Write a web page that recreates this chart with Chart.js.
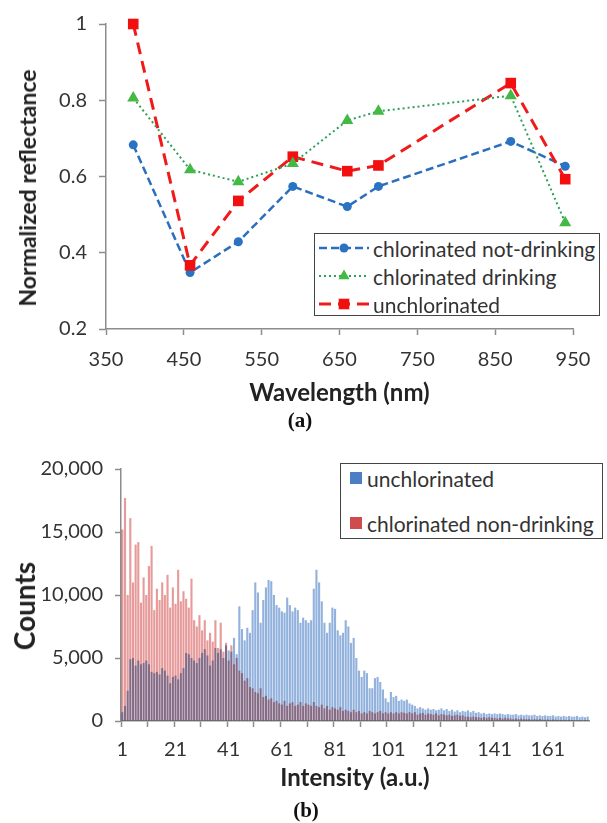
<!DOCTYPE html>
<html>
<head>
<meta charset="utf-8">
<script src="https://cdn.jsdelivr.net/npm/chart.js@4.4.1/dist/chart.umd.min.js"></script>
<style>
    html, body { margin: 0; padding: 0; background: #fff; }
    body { width: 607px; height: 823px; position: relative; overflow: hidden; font-family: 'Lato', sans-serif; color: #333; }
    canvas { position: absolute; left: 0; }
    #reflectance { top: 0; }
    #histogram { top: 440px; }
    .y-title { position: absolute; font-weight: bold; color: #222; white-space: nowrap; transform: translate(-50%, -50%) rotate(-90deg); }
    .panel-label { position: absolute; font-family: 'Liberation Serif', serif; font-weight: bold; font-size: 21px; color: #111; transform: translate(-50%, -50%); }
    .legend { position: absolute; box-sizing: border-box; border: 1.5px solid #444; background: #fff; font-size: 21px; }
    .legend-row { display: flex; align-items: center; height: 28px; white-space: nowrap; }
    .legend-row svg { flex: none; }
    .swatch { width: 12px; height: 12px; margin: 0 5px 0 9px; flex: none; }
</style>
</head>
<body>
<canvas id="reflectance" width="607" height="410"></canvas>
<canvas id="histogram" width="607" height="360"></canvas>

<div class="y-title" style="left: 27px; top: 188px; font-size: 23px;">Normalized reflectance</div>
<div class="y-title" style="left: 24px; top: 606px; font-size: 28px;">Counts</div>
<div class="panel-label" style="left: 300px; top: 420px;">(a)</div>
<div class="panel-label" style="left: 306px; top: 810px;">(b)</div>

<div class="legend" id="legend-a" style="left: 314px; top: 233px; width: 286px; height: 83px;"></div>
<div class="legend" id="legend-b" style="left: 340px; top: 463px; width: 263px; height: 76px;"></div>

<script>
// (a) reflectance spectra
const wavelengths = [385, 458, 520, 590, 660, 700, 870, 940];
const chlorNotDrinking = [0.683, 0.348, 0.429, 0.574, 0.521, 0.574, 0.692, 0.627];
const chlorDrinking = [0.806, 0.618, 0.586, 0.634, 0.747, 0.771, 0.812, 0.479];
const unchlorinated = [1.0, 0.367, 0.536, 0.652, 0.614, 0.629, 0.845, 0.593];
const reflectanceTicks = [0.2, 0.4, 0.6, 0.8, 1];

// (b) intensity histograms, bins 1..176
const intensityBins = Array.from({ length: 176 }, (_, i) => String(i + 1));
const unchlorinatedCounts = [
    700, 1200, 2400, 4900, 5000, 4400, 4800, 4500, 4600, 4800,
    4500, 3900, 3800, 3900, 3700, 4200, 4000, 3600, 3000, 3500,
    3600, 3300, 3800, 4200, 5400, 5300, 5000, 4800, 4600, 5000,
    5400, 5700, 5200, 4400, 4800, 5800, 5400, 5700, 5000, 6000,
    5600, 5500, 6600, 5300, 9100, 7300, 6400, 7400, 7000, 8800,
    11000, 10200, 7800, 9600, 10600, 11200, 11100, 10000, 9200, 9000,
    8700, 8600, 9800, 9200, 8700, 9000, 8800, 7800, 8200, 8000,
    7800, 8000, 10500, 12000, 11000, 9500, 7800, 7000, 7800, 9000,
    8900, 7200, 6800, 7000, 8000, 7500, 6200, 6600, 5000, 4000,
    3500, 4000, 3800, 2600, 2600, 3400, 3500, 3100, 2500, 1800,
    1500, 2300, 1900, 2000, 1600, 1700, 1600, 1700, 1400, 1300,
    1200, 1000, 1100, 1000, 900, 1000, 900, 950, 850, 900,
    1000, 850, 950, 800, 900, 750, 850, 700, 800, 750,
    850, 700, 800, 650, 700, 600, 650, 550, 600, 550,
    600, 550, 600, 550, 500, 550, 500, 500, 550, 450,
    500, 450, 500, 450, 450, 500, 400, 450, 400, 450,
    400, 400, 450, 350, 400, 350, 400, 350, 400, 350,
    350, 400, 300, 350, 300, 350
];
const chlorNonDrinkingCounts = [
    15200, 17700, 10000, 16100, 11000, 14000, 14200, 9400, 11400, 10000,
    12300, 13900, 8800, 10500, 9600, 11000, 10000, 11600, 9000, 10600,
    9300, 12000, 9500, 10300, 9700, 9000, 11300, 8000, 7500, 8400,
    7200, 8000, 6400, 7000, 6300, 8000, 5800, 7800, 5500, 6200,
    4800, 6000, 4500, 5000, 4000, 3800, 3200, 3400, 2700, 2600,
    2300, 2200, 2600, 1900, 2000, 1700, 1800, 1500, 1600, 1400,
    1300, 1600, 1200, 1400, 1500, 1200, 1300, 1500, 1200, 1400,
    1300, 1200, 1500, 1200, 1100, 1300, 1000, 1200, 900, 1100,
    1000, 900, 1100, 800, 900, 800, 700, 900, 700, 800,
    600, 700, 600, 800, 700, 600, 700, 800, 600, 700,
    600, 700, 600, 700, 600, 700, 650, 600, 700, 600,
    700, 500, 600, 650, 500, 600, 550, 500, 600, 450,
    550, 500, 450, 500, 400, 450, 500, 400, 450, 350,
    350, 300, 350, 300, 300, 250, 300, 250, 300, 250,
    250, 200, 250, 200, 250, 200, 200, 150, 200, 150,
    200, 150, 150, 150, 120, 150, 120, 150, 120, 100,
    120, 100, 120, 100, 100, 80, 100, 80, 100, 80,
    80, 60, 80, 60, 80, 60
];
const countTicks = [0, 5000, 10000, 15000, 20000];

const AXIS_GREY = '#8c8c8c';
const TEXT = '#333';
Chart.defaults.font.family = "'Lato', sans-serif";
Chart.defaults.color = TEXT;

function toPoints(ys) {
    return ys.map((y, i) => ({ x: wavelengths[i], y: y }));
}

const reflectanceSets = [
    {
        label: 'chlorinated not-drinking',
        data: toPoints(chlorNotDrinking),
        borderColor: '#2a6fbd',
        backgroundColor: '#2a6fbd',
        borderWidth: 2.5,
        borderDash: [8, 4],
        pointStyle: 'circle',
        pointRadius: 4.5,
        pointBackgroundColor: '#2a72c2',
        pointBorderWidth: 0,
        order: 3
    },
    {
        label: 'chlorinated drinking',
        data: toPoints(chlorDrinking),
        borderColor: '#2f9f5a',
        backgroundColor: '#44b945',
        borderWidth: 2,
        borderDash: [2, 3],
        pointStyle: 'triangle',
        pointRadius: 7,
        pointBackgroundColor: '#44b945',
        pointBorderWidth: 0,
        order: 1
    },
    {
        label: 'unchlorinated',
        data: toPoints(unchlorinated),
        borderColor: '#f01a1a',
        backgroundColor: '#f01a1a',
        borderWidth: 3,
        borderDash: [12, 7],
        pointStyle: 'rect',
        pointRadius: 7.5,
        pointBackgroundColor: '#f20f0f',
        pointBorderWidth: 0,
        order: 2
    }
];

new Chart(document.getElementById('reflectance'), {
    type: 'line',
    data: { datasets: reflectanceSets.map(ds => ({ ...ds, clip: false })) },
    options: {
        responsive: false,
        animation: false,
        layout: { padding: { top: 22, right: 34, left: 0, bottom: 2 } },
        plugins: { legend: { display: false }, tooltip: { enabled: false } },
        scales: {
            x: {
                type: 'linear',
                min: 350,
                max: 950,
                ticks: { stepSize: 100, padding: 13, font: { size: 20 } },
                grid: { drawOnChartArea: false, tickLength: 6, tickColor: AXIS_GREY, tickWidth: 1.5 },
                border: { color: AXIS_GREY, width: 1.5 },
                title: { display: true, text: 'Wavelength (nm)', color: '#222', font: { size: 24, weight: 'bold' }, padding: { top: 0, bottom: 0 } },
                afterFit: s => { s.height = 79; }
            },
            y: {
                min: 0.2,
                max: 1,
                afterBuildTicks: s => { s.ticks = reflectanceTicks.map(v => ({ value: v })); },
                ticks: { padding: 12, font: { size: 20 }, callback: v => String(+v.toFixed(1)) },
                grid: { drawOnChartArea: false, tickLength: 7, tickColor: AXIS_GREY, tickWidth: 1.5 },
                border: { color: AXIS_GREY, width: 1.5 },
                afterFit: s => { s.width = 106; }
            }
        }
    }
});

// overlapping translucent bars look purple where they cross
const multiplyBars = {
    id: 'multiplyBars',
    beforeDatasetsDraw(chart) {
        chart.ctx.save();
        chart.ctx.globalCompositeOperation = 'multiply';
    },
    afterDatasetsDraw(chart) {
        chart.ctx.restore();
    }
};

const histogramSets = [
    { label: 'unchlorinated', data: unchlorinatedCounts, backgroundColor: '#92b2dd' },
    { label: 'chlorinated non-drinking', data: chlorNonDrinkingCounts, backgroundColor: '#e79a9a' }
];

new Chart(document.getElementById('histogram'), {
    type: 'bar',
    data: {
        labels: intensityBins,
        datasets: histogramSets.map(d => ({ ...d, borderWidth: 0, barPercentage: 0.8, categoryPercentage: 1 }))
    },
    options: {
        responsive: false,
        animation: false,
        layout: { padding: { top: 29, right: 18, left: 0, bottom: 0 } },
        plugins: { legend: { display: false }, tooltip: { enabled: false } },
        scales: {
            x: {
                stacked: true,
                ticks: {
                    autoSkip: false,
                    maxRotation: 0,
                    minRotation: 0,
                    padding: 11,
                    font: { size: 20 },
                    callback: function (value, index) {
                        return index % 20 === 0 ? this.getLabelForValue(value) : '';
                    }
                },
                grid: {
                    drawOnChartArea: false,
                    tickLength: 6,
                    tickWidth: 1.5,
                    tickColor: ctx => (ctx.index % 10 === 0 ? AXIS_GREY : 'rgba(0,0,0,0)')
                },
                border: { color: AXIS_GREY, width: 1.5 },
                title: { display: true, text: 'Intensity (a.u.)', color: '#222', font: { size: 24, weight: 'bold' }, padding: { top: 0, bottom: 7 } },
                afterFit: s => { s.height = 79; }
            },
            y: {
                stacked: false,
                min: 0,
                max: 20000,
                afterBuildTicks: s => { s.ticks = countTicks.map(v => ({ value: v })); },
                ticks: { padding: 12, font: { size: 20 } },
                grid: { drawOnChartArea: false, tickLength: 6, tickColor: AXIS_GREY, tickWidth: 1.5 },
                border: { color: AXIS_GREY, width: 1.5 },
                afterFit: s => { s.width = 121; }
            }
        }
    },
    plugins: [multiplyBars]
});

// legends drawn as html boxes, built from the dataset styles
function markerSvg(ds, cx, cy) {
    const c = ds.pointBackgroundColor;
    if (ds.pointStyle === 'triangle') {
        return `<polygon points="${cx},${cy - 6.5} ${cx + 5.6},${cy + 3.3} ${cx - 5.6},${cy + 3.3}" fill="${c}"/>`;
    }
    if (ds.pointStyle === 'rect') {
        return `<rect x="${cx - 5.3}" y="${cy - 5.3}" width="10.6" height="10.6" fill="${c}"/>`;
    }
    return `<circle cx="${cx}" cy="${cy}" r="${ds.pointRadius}" fill="${c}"/>`;
}

const legendA = document.getElementById('legend-a');
reflectanceSets.forEach(ds => {
    const row = document.createElement('div');
    row.className = 'legend-row';
    row.innerHTML =
        `<svg width="58" height="16"><line x1="4" y1="8" x2="54" y2="8" stroke="${ds.borderColor}" ` +
        `stroke-width="${ds.borderWidth}" stroke-dasharray="${ds.borderDash.join(' ')}"/>${markerSvg(ds, 29, 8)}</svg>` +
        `<span>${ds.label}</span>`;
    legendA.appendChild(row);
});

const legendB = document.getElementById('legend-b');
histogramSets.forEach((ds, i) => {
    const row = document.createElement('div');
    row.className = 'legend-row';
    if (i > 0) row.style.marginTop = '17px';
    const swatchColor = i === 0 ? '#4a7fc4' : '#cf4c4c';
    row.innerHTML = `<div class="swatch" style="background:${swatchColor}"></div><span>${ds.label}</span>`;
    legendB.appendChild(row);
});
</script>
</body>
</html>
